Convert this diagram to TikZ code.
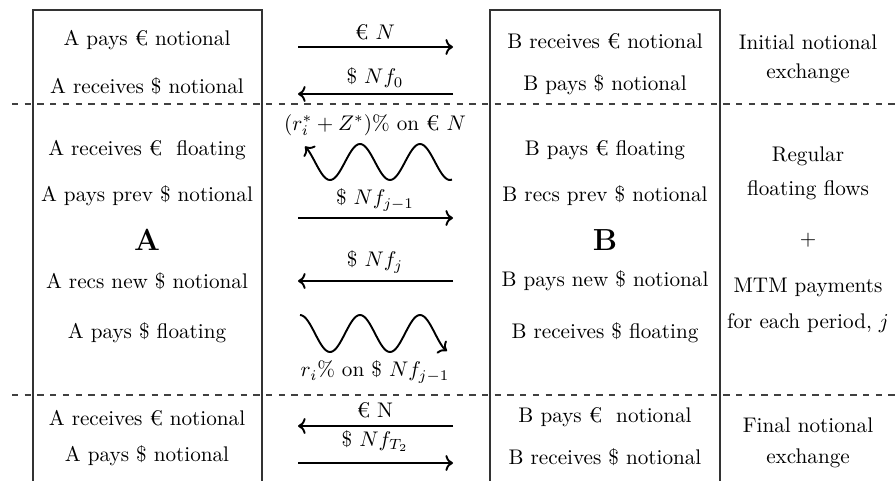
\documentclass[tikz,border=0pt]{standalone}
\usepackage{amsmath}
\usetikzlibrary{arrows.meta}

\begin{document}
\begin{tikzpicture}[x=0.0166cm, y=-0.0166cm,
    party/.style={draw=black!80, line width=0.6pt},
    period/.style={draw=black!75, dashed, line width=0.6pt},
    flow/.style={line width=0.9pt, ->},
    wave/.style={line width=0.9pt, line join=round},
    lbl/.style={font=\normalsize, inner sep=1pt}]
    \useasboundingbox (0,0) rectangle (895,480);

    % Party boxes (open at the bottom)
    \draw[party] (33,490) -- (33,10) -- (262,10) -- (262,490);
    \draw[party] (490,490) -- (490,10) -- (720,10) -- (720,490);

    % Period separators
    \draw[period] (12,104) -- (895,104);
    \draw[period] (12,395) -- (895,395);

    % Party A
    \node[lbl] (a1) at (147,40) {A pays € notional};
    \node[lbl] (a2) at (147,86) {A receives \$ notional};
    \node[lbl] (a3) at (147,150) {A receives €\ \ floating};
    \node[lbl] (a4) at (147,196) {A pays prev \$ notional};
    \node[lbl, font=\Large\bfseries] (aname) at (147,240) {A};
    \node[lbl] (a5) at (147,281) {A recs new \$ notional};
    \node[lbl] (a6) at (147,333) {A pays \$ floating};
    \node[lbl] (a7) at (147,418) {A receives € notional};
    \node[lbl] (a8) at (147,456) {A pays \$ notional};

    % Party B
    \node[lbl] (b1) at (605,41) {B receives € notional};
    \node[lbl] (b2) at (605,85) {B pays \$ notional};
    \node[lbl] (b3) at (605,150) {B pays € floating};
    \node[lbl] (b4) at (605,196) {B recs prev \$ notional};
    \node[lbl, font=\Large\bfseries] (bname) at (605,240) {B};
    \node[lbl] (b5) at (605,281) {B pays new \$ notional};
    \node[lbl] (b6) at (605,333) {B receives \$ floating};
    \node[lbl] (b7) at (605,417) {B pays €\ \ notional};
    \node[lbl] (b8) at (605,457) {B receives \$ notional};

    % Description column
    \node[lbl, align=center] (initial) at (808,59) {Initial notional\\[1.5pt]exchange};
    \node[lbl] (regular) at (808,156) {Regular};
    \node[lbl] (floatflows) at (808,190) {floating flows};
    \node[lbl] (plus) at (808,240) {$+$};
    \node[lbl] (mtm) at (808,287) {MTM payments};
    \node[lbl] (eachper) at (808,323) {for each period, $j$};
    \node[lbl, align=center] (final) at (808,443) {Final notional\\[2.5pt]exchange};

    % Initial exchange
    \coordinate (i1l) at (298,47);  \coordinate (i1r) at (453,47);
    \coordinate (i2l) at (298,94);  \coordinate (i2r) at (453,94);
    \draw[flow] (i1l) -- (i1r);
    \draw[flow] (i2r) -- (i2l);
    \node[lbl] (eurN) at (375,32) {€ $N$};
    \node[lbl] (usdNf0) at (375,78) {\$ $N f_0$};

    % Regular periods
    \node[lbl] (eurfloat) at (375,125) {$(r_i^* + Z^*)\%$ on € $N$};
    \draw[wave, <-] plot[domain=305:452, samples=90] (\x, {162 - 18*cos(6*(\x-300))});
    \coordinate (p1l) at (298,218); \coordinate (p1r) at (453,218);
    \coordinate (p2l) at (298,281); \coordinate (p2r) at (453,281);
    \draw[flow] (p1l) -- (p1r);
    \draw[flow] (p2r) -- (p2l);
    \node[lbl] (usdprev) at (375,200) {\$ $N f_{j-1}$};
    \node[lbl] (usdnew) at (375,262) {\$ $N f_j$};
    \draw[wave, ->] plot[domain=300:447, samples=90] (\x, {333.5 - 18.5*cos(6*(\x-300))});
    \node[lbl] (usdfloat) at (375,372) {$r_i\%$ on \$ $N f_{j-1}$};

    % Final exchange
    \coordinate (f1l) at (298,426); \coordinate (f1r) at (453,426);
    \coordinate (f2l) at (298,463); \coordinate (f2r) at (453,463);
    \draw[flow] (f1r) -- (f1l);
    \draw[flow] (f2l) -- (f2r);
    \node[lbl] (eurNfin) at (375,410) {€ N};
    \node[lbl] (usdNfin) at (375,441) {\$ $N f_{T_2}$};

\end{tikzpicture}
\end{document}
